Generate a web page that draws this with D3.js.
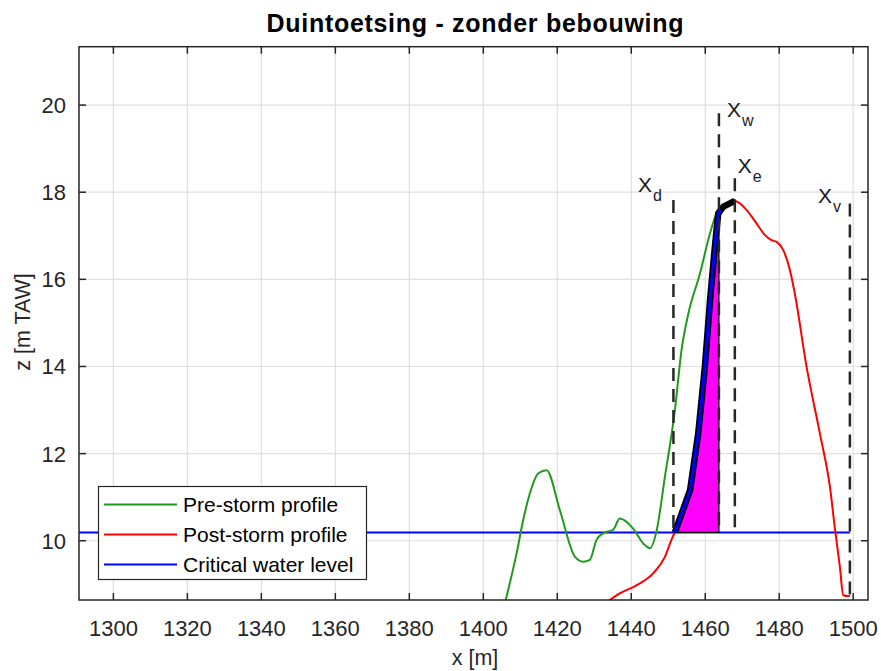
<!DOCTYPE html>
<html>
<head>
<meta charset="utf-8">
<script src="https://d3js.org/d3.v7.min.js"></script>
<style>
  body { margin: 0; background: #fff; }
  svg { display: block; font-family: "Liberation Sans", Arial, Helvetica, sans-serif; }
</style>
</head>
<body>
<svg id="chart" width="881" height="671"></svg>
<script>
// pre-storm profile (green)
const preX = [1405.8, 1409.0, 1410.8, 1412.6, 1414.9, 1417.1, 1420.7, 1424.8, 1427.0, 1428.8, 1430.6, 1432.4, 1435.1, 1436.9, 1440.5, 1443.2, 1445.1, 1446.9, 1449.1, 1451.8, 1453.6, 1455.4, 1458.6, 1461.3, 1463.1, 1464.0, 1466.0, 1468.0];
const preZ = [8.55, 9.71, 10.48, 11.09, 11.55, 11.62, 10.70, 9.63, 9.52, 9.56, 10.02, 10.17, 10.25, 10.51, 10.28, 9.94, 9.83, 10.25, 11.47, 13.0, 14.38, 15.2, 16.14, 17.06, 17.51, 17.59, 17.72, 17.80];

// post-storm profile (red)
const postX = [1432.8, 1436.9, 1441.5, 1445.9, 1449.1, 1451.2, 1451.8, 1455.9, 1458.1, 1459.9, 1461.3, 1462.6, 1463.5, 1464.9, 1468.0, 1469.4, 1471.2, 1473.9, 1476.1, 1477.9, 1479.3, 1481.1, 1482.9, 1484.2, 1487.4, 1491.0, 1493.7, 1495.1, 1496.4, 1497.3, 1498.6, 1499.1];
const postZ = [8.55, 8.79, 8.98, 9.25, 9.63, 10.09, 10.19, 11.16, 12.46, 13.99, 15.52, 16.75, 17.51, 17.67, 17.80, 17.74, 17.59, 17.28, 17.02, 16.90, 16.86, 16.67, 16.21, 15.68, 13.99, 12.46, 11.24, 10.25, 9.40, 8.75, 8.73, 8.73];

// erosion profile above the water level
const eroX = [1451.8, 1455.9, 1458.1, 1459.9, 1461.3, 1462.6, 1463.5, 1464.9, 1468.0];
const eroZ = [10.19, 11.16, 12.46, 13.99, 15.52, 16.75, 17.51, 17.67, 17.80];
const eroBlueX = [1451.8, 1455.9, 1458.1, 1459.9, 1461.3, 1462.6, 1463.5, 1464.2];
const eroBlueZ = [10.19, 11.16, 12.46, 13.99, 15.52, 16.75, 17.51, 17.60];

// eroded area (magenta)
const areaX = [1451.8, 1455.9, 1458.1, 1459.9, 1461.3, 1462.6, 1463.5, 1463.7, 1463.7];
const areaZ = [10.19, 11.16, 12.46, 13.99, 15.52, 16.75, 17.51, 17.53, 10.19];

// critical water level
const wlX = [1285, 1499.1];
const wlZ = [10.19, 10.19];

// vertical markers
const markNames = ["d", "w", "e", "v"];
const markX = [1451.4, 1463.7, 1468.0, 1499.1];
const markTop = [17.82, 19.81, 18.32, 17.74];
const markBottom = [10.19, 10.19, 10.19, 8.5];
const labelX = [1441.8, 1465.9, 1468.8, 1490.5];
const labelZ = [18.0, 19.72, 18.44, 17.75];

const xTicks = [1300, 1320, 1340, 1360, 1380, 1400, 1420, 1440, 1460, 1480, 1500];
const yTicks = [10, 12, 14, 16, 18, 20];

const legendNames = ["Pre-storm profile", "Post-storm profile", "Critical water level"];
const legendColors = ["#1f9a1f", "#ff0000", "#0000ff"];

const svg = d3.select("#chart");
const plot = { left: 79, right: 868, top: 46.7, bottom: 600 };
const axisColor = "#262626";

const x = d3.scaleLinear().domain([1290.7, 1504]).range([plot.left, plot.right]);
const y = d3.scaleLinear().domain([8.64, 21.34]).range([plot.bottom, plot.top]);

svg.append("defs").append("clipPath").attr("id", "clip")
  .append("rect")
  .attr("x", plot.left).attr("y", plot.top)
  .attr("width", plot.right - plot.left).attr("height", plot.bottom - plot.top);

// grid
const grid = svg.append("g");
grid.selectAll(".gx").data(xTicks).enter().append("line")
  .attr("x1", (d) => x(d)).attr("x2", (d) => x(d))
  .attr("y1", plot.top).attr("y2", plot.bottom)
  .attr("stroke", "#dfdfdf").attr("stroke-width", 1.2);
grid.selectAll(".gy").data(yTicks).enter().append("line")
  .attr("x1", plot.left).attr("x2", plot.right)
  .attr("y1", (d) => y(d)).attr("y2", (d) => y(d))
  .attr("stroke", "#dfdfdf").attr("stroke-width", 1.2);

const zip = (xs, zs) => xs.map((v, i) => [v, zs[i]]);
const line = d3.line().x((d) => x(d[0])).y((d) => y(d[1])).curve(d3.curveMonotoneX);
const straight = d3.line().x((d) => x(d[0])).y((d) => y(d[1]));

const g = svg.append("g").attr("clip-path", "url(#clip)");

g.append("path").attr("d", straight(zip(wlX, wlZ)))
  .attr("fill", "none").attr("stroke", "#0000ff").attr("stroke-width", 2);

g.append("path").attr("d", line(zip(preX, preZ)))
  .attr("fill", "none").attr("stroke", legendColors[0]).attr("stroke-width", 2)
  .attr("stroke-linejoin", "round");

g.append("path").attr("d", line(zip(postX, postZ)))
  .attr("fill", "none").attr("stroke", "#ff0000").attr("stroke-width", 2)
  .attr("stroke-linejoin", "round");

g.append("path").attr("d", straight(zip(areaX, areaZ)) + "Z")
  .attr("fill", "#ff00ff").attr("stroke", "#000").attr("stroke-width", 1.2);

g.append("path").attr("d", straight(zip(eroX, eroZ)))
  .attr("fill", "none").attr("stroke", "#000").attr("stroke-width", 6.5)
  .attr("stroke-linejoin", "round");

g.append("path").attr("d", straight(zip(eroBlueX, eroBlueZ)))
  .attr("fill", "none").attr("stroke", "#0000ff").attr("stroke-width", 3)
  .attr("stroke-linejoin", "round");

// dashed marker lines
g.selectAll(".mark").data(markX).enter().append("line")
  .attr("x1", (d) => x(d)).attr("x2", (d) => x(d))
  .attr("y1", (d, i) => y(markTop[i])).attr("y2", (d, i) => y(markBottom[i]))
  .attr("stroke", "#262626").attr("stroke-width", 2.5)
  .attr("stroke-dasharray", "13,8");

// marker labels X_d, X_w, ...
markNames.forEach((name, i) => {
  const t = svg.append("text")
    .attr("x", x(labelX[i])).attr("y", y(labelZ[i]))
    .attr("font-size", 21).attr("fill", "#1a1a1a");
  t.append("tspan").text("X");
  t.append("tspan").attr("dy", 9).attr("font-size", 16).attr("dx", 1).text(name);
});

// axes box and ticks
const axes = svg.append("g").attr("stroke", axisColor).attr("stroke-width", 1.5);
axes.append("rect")
  .attr("x", plot.left).attr("y", plot.top)
  .attr("width", plot.right - plot.left).attr("height", plot.bottom - plot.top)
  .attr("fill", "none");
const tl = 7;
xTicks.forEach((t) => {
  axes.append("line").attr("x1", x(t)).attr("x2", x(t)).attr("y1", plot.bottom).attr("y2", plot.bottom - tl);
  axes.append("line").attr("x1", x(t)).attr("x2", x(t)).attr("y1", plot.top).attr("y2", plot.top + tl);
});
yTicks.forEach((t) => {
  axes.append("line").attr("x1", plot.left).attr("x2", plot.left + tl).attr("y1", y(t)).attr("y2", y(t));
  axes.append("line").attr("x1", plot.right).attr("x2", plot.right - tl).attr("y1", y(t)).attr("y2", y(t));
});

svg.append("g").selectAll("text").data(xTicks).enter().append("text")
  .attr("x", (d) => x(d)).attr("y", plot.bottom + 36)
  .attr("text-anchor", "middle").attr("font-size", 22).attr("fill", axisColor)
  .text((d) => d);
svg.append("g").selectAll("text").data(yTicks).enter().append("text")
  .attr("x", plot.left - 13).attr("y", (d) => y(d) + 8)
  .attr("text-anchor", "end").attr("font-size", 22).attr("fill", axisColor)
  .text((d) => d);

// titles
svg.append("text").attr("x", 475).attr("y", 32)
  .attr("text-anchor", "middle").attr("font-size", 25).attr("font-weight", "bold")
  .attr("textLength", 417).attr("lengthAdjust", "spacing")
  .attr("fill", "#000").text("Duintoetsing - zonder bebouwing");
svg.append("text").attr("x", 475).attr("y", 665)
  .attr("text-anchor", "middle").attr("font-size", 21.5).attr("fill", axisColor)
  .text("x [m]");
svg.append("text").attr("transform", "translate(30,322) rotate(-90)")
  .attr("text-anchor", "middle").attr("font-size", 21.5).attr("fill", axisColor)
  .text("z [m TAW]");

// legend
const leg = svg.append("g");
leg.append("rect").attr("x", 98.5).attr("y", 486.5).attr("width", 268).attr("height", 93)
  .attr("fill", "#fff").attr("stroke", axisColor).attr("stroke-width", 1.2);
legendNames.forEach((name, i) => {
  const ly = 504.5 + i * 30;
  leg.append("line").attr("x1", 104).attr("x2", 177).attr("y1", ly).attr("y2", ly)
    .attr("stroke", legendColors[i]).attr("stroke-width", 2);
  leg.append("text").attr("x", 183).attr("y", ly + 7.5)
    .attr("font-size", 21).attr("fill", "#000").text(name);
});
</script>
</body>
</html>
